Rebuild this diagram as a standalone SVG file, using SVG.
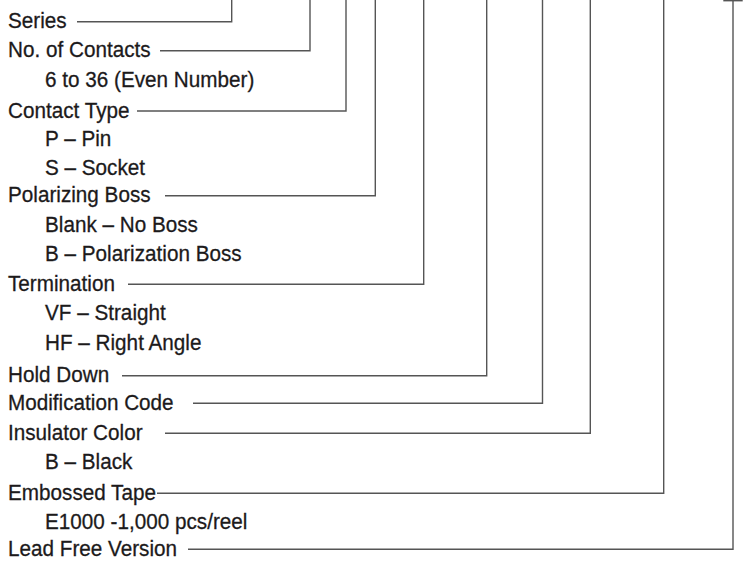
<svg xmlns="http://www.w3.org/2000/svg" width="752" height="561" viewBox="0 0 752 561">
<style>
text{font-family:"Liberation Sans",Arial,sans-serif;font-size:22.5px;fill:#1c1a1b;stroke:#1c1a1b;stroke-width:0.3}
.c{fill:none;stroke:#555;stroke-width:1.4}
</style>
<rect width="752" height="561" fill="#fff"/>
<g id="labels" transform="scale(0.92,1)">
<g id="series"><text x="8.7" y="28.3">Series</text></g>
<g id="contacts"><text x="8.7" y="57.5">No. of Contacts</text><text x="48.9" y="86.8">6 to 36 (Even Number)</text></g>
<g id="contact-type"><text x="8.7" y="117.8">Contact Type</text><text x="48.9" y="146.2">P – Pin</text><text x="48.9" y="175.5">S – Socket</text></g>
<g id="polarizing"><text x="8.7" y="202.5">Polarizing Boss</text><text x="48.9" y="232.2">Blank – No Boss</text><text x="48.9" y="261.5">B – Polarization Boss</text></g>
<g id="termination"><text x="8.7" y="291.2">Termination</text><text x="48.9" y="320.5">VF – Straight</text><text x="48.9" y="349.8">HF – Right Angle</text></g>
<g id="hold-down"><text x="8.7" y="382.5">Hold Down</text></g>
<g id="modification"><text x="8.7" y="410.2">Modification Code</text></g>
<g id="insulator"><text x="8.7" y="440.2">Insulator Color</text><text x="48.9" y="469.5">B – Black</text></g>
<g id="tape"><text x="8.7" y="500.2">Embossed Tape</text><text x="48.9" y="529.5">E1000 -1,000 pcs/reel</text></g>
<g id="lead-free"><text x="8.7" y="556.2">Lead Free Version</text></g>
</g>
<g id="connectors" class="c">
<polyline class="c" points="77,21.7 231.7,21.7 231.7,0"/>
<polyline class="c" points="160,50.7 310,50.7 310,0"/>
<polyline class="c" points="137,111 346,111 346,0"/>
<polyline class="c" points="165,195.7 375.3,195.7 375.3,0"/>
<polyline class="c" points="128,284.3 423.7,284.3 423.7,0"/>
<polyline class="c" points="122,375.7 486.7,375.7 486.7,0"/>
<polyline class="c" points="193,403.3 542.5,403.3 542.5,0"/>
<polyline class="c" points="165,433.3 590.3,433.3 590.3,0"/>
<polyline class="c" points="157,493.3 663.7,493.3 663.7,0"/>
<polyline class="c" points="188,549.3 733,549.3 733,0"/>
<line class="c" x1="723.3" y1="0.7" x2="742.7" y2="0.7"/>
</g>
</svg>
